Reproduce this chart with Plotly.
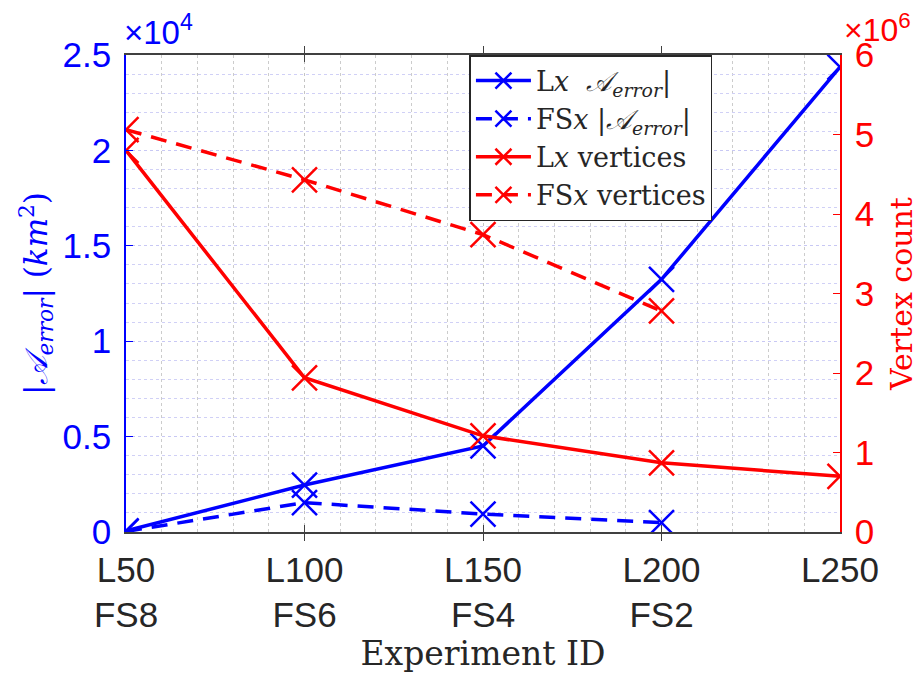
import plotly.graph_objects as go

# x categories (two-line tick labels)
experiments = [0, 1, 2, 3, 4]
l_labels = ["L50", "L100", "L150", "L200", "L250"]
fs_labels = ["FS8", "FS6", "FS4", "FS2", ""]

# |A_error| in km^2 (left axis)
lx_area_err = [60, 2460, 4510, 13240, 24370]
fsx_area_err = [30, 1540, 940, 490]

# vertex counts (right axis)
lx_vertices = [4.80e6, 1.94e6, 1.21e6, 0.87e6, 0.70e6]
fsx_vertices = [5.06e6, 4.43e6, 3.74e6, 2.78e6]

BLUE = "#0000ff"
RED = "#ff0000"
SANS = "Liberation Sans, Arial, sans-serif"
SERIF = "DejaVu Serif, Liberation Serif, serif"
DASH = "16px,10px"


def marker(color):
    return dict(symbol="x-thin", size=25, line=dict(width=2.5, color=color))


fig = go.Figure()
fig.add_trace(go.Scatter(
    x=experiments, y=lx_area_err, mode="lines+markers",
    name="L<i>x</i>  <i>𝒜</i><sub><i>error</i></sub>|",
    line=dict(color=BLUE, width=3.5), marker=marker(BLUE), yaxis="y",
))
fig.add_trace(go.Scatter(
    x=experiments[:4], y=fsx_area_err, mode="lines+markers",
    name="FS<i>x</i> |<i>𝒜</i><sub><i>error</i></sub>|",
    line=dict(color=BLUE, width=3.5, dash=DASH), marker=marker(BLUE), yaxis="y",
))
fig.add_trace(go.Scatter(
    x=experiments, y=lx_vertices, mode="lines+markers",
    name="L<i>x</i> vertices",
    line=dict(color=RED, width=3.5), marker=marker(RED), yaxis="y2",
))
fig.add_trace(go.Scatter(
    x=experiments[:4], y=fsx_vertices, mode="lines+markers",
    name="FS<i>x</i> vertices",
    line=dict(color=RED, width=3.5, dash=DASH), marker=marker(RED), yaxis="y2",
))

ticktext = [f"{a}<br>{b}" for a, b in zip(l_labels, fs_labels)]

# page body adds an 8px offset, so the figure is 8px smaller and margins shifted
fig.update_layout(
    width=916, height=673,
    margin=dict(l=118, r=84, t=47, b=149),
    plot_bgcolor="white", paper_bgcolor="white",
    showlegend=True,
    legend=dict(
        x=0.481, y=1.0, xanchor="left", yanchor="top",
        bgcolor="white", bordercolor="#262626", borderwidth=1.5,
        font=dict(family=SERIF, size=27, color="#262626"),
        tracegroupgap=0, itemwidth=55,
    ),
    xaxis=dict(
        range=[0, 4], tickvals=experiments, ticktext=ticktext,
        tickfont=dict(family=SANS, size=35, color="#262626"),
        showline=True, linecolor="#404040", linewidth=1.5, mirror="allticks",
        ticks="inside", ticklen=7, tickcolor="#404040", ticklabelstandoff=6,
        showgrid=True, gridcolor="#c4c4c4", griddash="dot", gridwidth=1,
        minor=dict(dtick=0.2, showgrid=True, gridcolor="#cccccc", griddash="dot"),
        zeroline=False, automargin=False,
        title=dict(text="Experiment ID", font=dict(family=SERIF, size=33, color="#262626"), standoff=6),
    ),
    yaxis=dict(
        range=[0, 25000], tickvals=[0, 5000, 10000, 15000, 20000, 25000],
        ticktext=["0", "0.5", "1", "1.5", "2", "2.5"],
        tickfont=dict(family=SANS, size=35, color=BLUE),
        showline=True, linecolor=BLUE, linewidth=1.5,
        ticks="inside", ticklen=7, tickcolor=BLUE, ticklabelstandoff=6,
        showgrid=True, gridcolor="#c8c8f4", griddash="dot",
        minor=dict(dtick=1000, showgrid=True, gridcolor="#d0d0f6", griddash="dot"),
        zeroline=False, automargin=False,
        title=dict(
            text="|<i>𝒜</i><sub><i>error</i></sub>| (<i>km</i><sup>2</sup>)",
            font=dict(family=SERIF, size=31, color=BLUE), standoff=6,
        ),
    ),
    yaxis2=dict(
        overlaying="y", side="right",
        range=[0, 6e6], tickvals=[0, 1e6, 2e6, 3e6, 4e6, 5e6, 6e6],
        ticktext=["0", "1", "2", "3", "4", "5", "6"],
        tickfont=dict(family=SANS, size=35, color=RED),
        showline=True, linecolor=RED, linewidth=1.5,
        ticks="inside", ticklen=7, tickcolor=RED, ticklabelstandoff=6,
        showgrid=False, zeroline=False, automargin=False,
        title=dict(text="Vertex count", font=dict(family=SERIF, size=30, color=RED), standoff=18),
    ),
    annotations=[
        dict(text="×10<sup>4</sup>", xref="paper", yref="paper", x=0.0, y=1.0,
             xanchor="left", yanchor="bottom", showarrow=False, yshift=2, xshift=-4,
             font=dict(family=SANS, size=33, color=BLUE)),
        dict(text="×10<sup>6</sup>", xref="paper", yref="paper", x=1.0, y=1.0,
             xanchor="left", yanchor="bottom", showarrow=False, xshift=2, yshift=5,
             font=dict(family=SANS, size=32, color=RED)),
    ],
)

fig.write_html("out.html")
